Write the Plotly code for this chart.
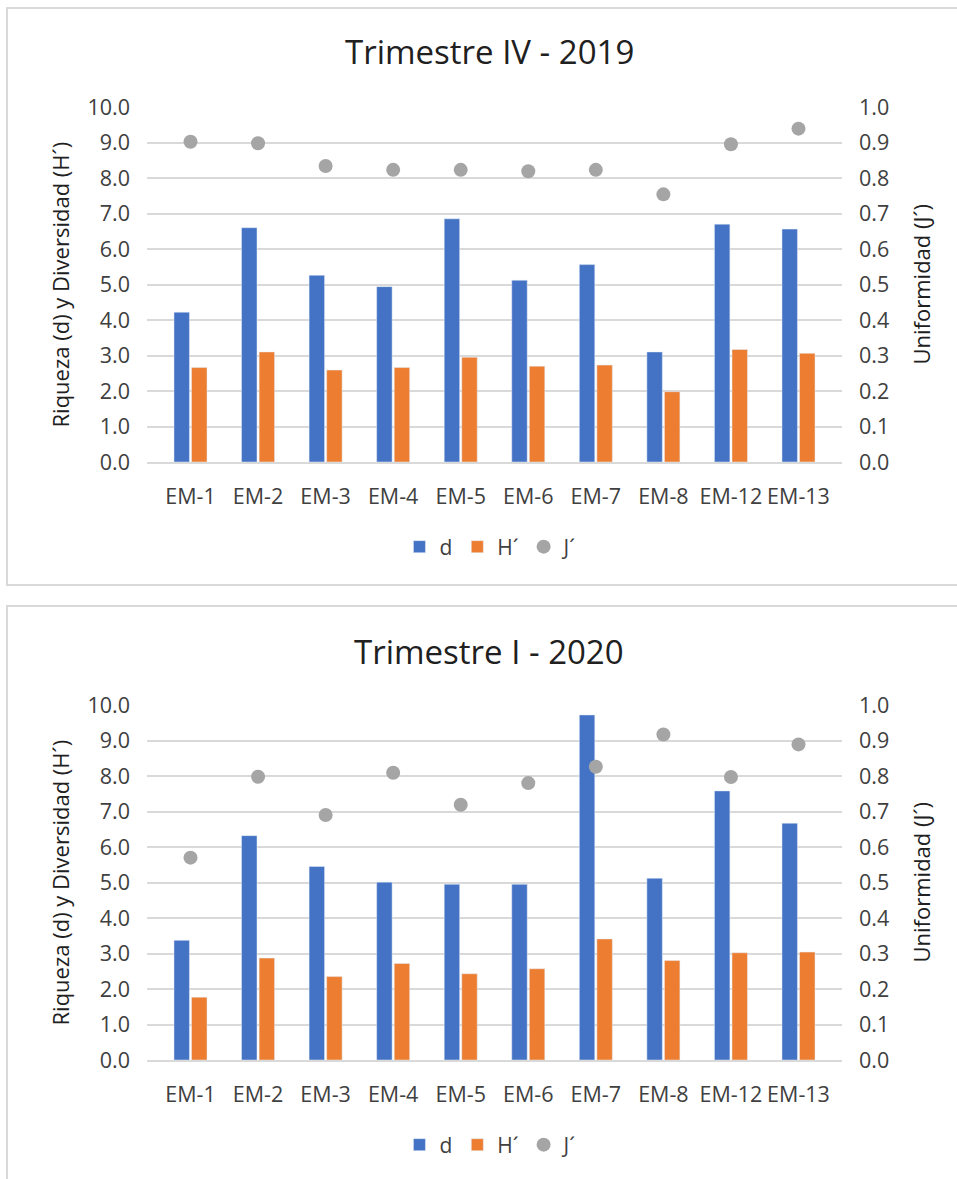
import plotly.graph_objects as go

# --- Data ---
stations = ["EM-1", "EM-2", "EM-3", "EM-4", "EM-5", "EM-6", "EM-7", "EM-8", "EM-12", "EM-13"]

# Trimestre IV - 2019
d_2019 = [4.22, 6.60, 5.26, 4.94, 6.85, 5.12, 5.56, 3.10, 6.70, 6.56]
h_2019 = [2.66, 3.10, 2.59, 2.66, 2.95, 2.70, 2.73, 1.98, 3.17, 3.06]
j_2019 = [0.902, 0.898, 0.834, 0.823, 0.823, 0.819, 0.823, 0.754, 0.895, 0.939]

# Trimestre I - 2020
d_2020 = [3.37, 6.32, 5.45, 5.01, 4.95, 4.95, 9.72, 5.12, 7.58, 6.67]
h_2020 = [1.77, 2.87, 2.35, 2.72, 2.43, 2.57, 3.41, 2.80, 3.02, 3.04]
j_2020 = [0.570, 0.798, 0.690, 0.809, 0.719, 0.780, 0.826, 0.917, 0.797, 0.889]

left_ticks = [0, 1, 2, 3, 4, 5, 6, 7, 8, 9, 10]
right_ticks = [0, 0.1, 0.2, 0.3, 0.4, 0.5, 0.6, 0.7, 0.8, 0.9, 1.0]

BLUE = "#4472C4"
ORANGE = "#ED7D31"
GRAY = "#A5A5A5"
GRID = "#D9D9D9"
FONT = "Open Sans"
W, H = 957, 1179


def py(px):
    # pixel row from top -> paper y
    return 1 - px / H


def px_x(px):
    return px / W


fig = go.Figure()

panels = [
    ("x", "y", "y2", "legend", d_2019, h_2019, j_2019),
    ("x2", "y3", "y4", "legend2", d_2020, h_2020, j_2020),
]
for xa, ya, ya2, leg, d, h, j in panels:
    fig.add_trace(go.Bar(x=stations, y=d, name="d", marker_color=BLUE,
                         xaxis=xa, yaxis=ya, legend=leg))
    fig.add_trace(go.Bar(x=stations, y=h, name="H´", marker_color=ORANGE,
                         xaxis=xa, yaxis=ya, legend=leg))
    fig.add_trace(go.Scatter(x=stations, y=j, name="J´", mode="markers",
                             marker=dict(color=GRAY, size=14),
                             xaxis=xa, yaxis=ya2, legend=leg))

x_dom = [px_x(147), px_x(842)]
tickfont = dict(family=FONT, size=21.5, color="#404040")

left_axis = dict(range=[0, 10], tickvals=left_ticks, tickformat=".1f",
                 showgrid=True, gridcolor=GRID, gridwidth=1.5,
                 zeroline=False, showline=False, ticks="", automargin=False,
                 ticklabelstandoff=16, tickfont=tickfont, fixedrange=True)
right_axis = dict(range=[0, 1], tickvals=right_ticks, tickformat=".1f",
                  side="right", showgrid=False, zeroline=False,
                  showline=False, ticks="", ticklabelstandoff=16, automargin=False,
                  tickfont=tickfont, fixedrange=True)
x_axis = dict(domain=x_dom, showline=True, linecolor=GRID, linewidth=1.5,
              ticks="", ticklabelstandoff=14, tickfont=tickfont, automargin=False,
              tickangle=0, fixedrange=True)

legend_style = dict(orientation="h", x=0.513, xanchor="center", yanchor="middle",
                    font=dict(family=FONT, size=21, color="#404040"),
                    itemwidth=30, bgcolor="rgba(0,0,0,0)")

fig.update_layout(
    width=W, height=H,
    margin=dict(l=0, r=0, t=0, b=0, autoexpand=False),
    paper_bgcolor="white", plot_bgcolor="white",
    font=dict(family=FONT, color="#404040"),
    barmode="group", bargap=0.48, bargroupgap=0.12,
    xaxis=dict(x_axis, anchor="y"),
    yaxis=dict(left_axis, domain=[py(462), py(107)], anchor="x"),
    yaxis2=dict(right_axis, overlaying="y", anchor="x"),
    xaxis2=dict(x_axis, anchor="y3"),
    yaxis3=dict(left_axis, domain=[py(1060), py(705)], anchor="x2"),
    yaxis4=dict(right_axis, overlaying="y3", anchor="x2"),
    legend=dict(legend_style, y=py(547)),
    legend2=dict(legend_style, y=py(1145)),
)

# chart titles and axis titles
for title, yc, ymid in [("Trimestre IV - 2019", 51, 284.5), ("Trimestre I - 2020", 652, 882.5)]:
    fig.add_annotation(text=title, x=0.511, y=py(yc), xref="paper", yref="paper",
                       showarrow=False, xanchor="center", yanchor="middle",
                       font=dict(family=FONT, size=33, color="#202020"))
    fig.add_annotation(text="Riqueza (d) y Diversidad (H´)", x=px_x(60), y=py(ymid),
                       xref="paper", yref="paper", showarrow=False, textangle=-90,
                       xanchor="center", yanchor="middle",
                       font=dict(family=FONT, size=22, color="#202020"))
    fig.add_annotation(text="Uniformidad (J´)", x=px_x(921), y=py(ymid),
                       xref="paper", yref="paper", showarrow=False, textangle=-90,
                       xanchor="center", yanchor="middle",
                       font=dict(family=FONT, size=22, color="#202020"))

# chart frames (the right edges run off the picture)
fig.add_shape(type="rect", xref="paper", yref="paper", x0=px_x(7), x1=1.02,
              y0=py(585), y1=py(8), line=dict(color=GRID, width=2), layer="below")
fig.add_shape(type="rect", xref="paper", yref="paper", x0=px_x(7), x1=1.02,
              y0=-0.02, y1=py(606), line=dict(color=GRID, width=2), layer="below")

fig.write_html("out.html", config={"displayModeBar": False},
               post_script="document.body.style.margin='0';")
